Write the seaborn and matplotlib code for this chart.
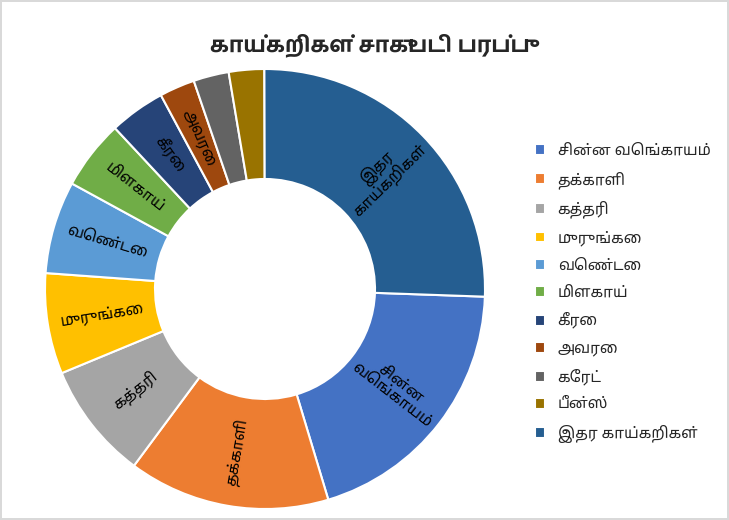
import numpy as np
import matplotlib
matplotlib.use("Agg")
import matplotlib.pyplot as plt
import seaborn as sns
from matplotlib import font_manager

# data (share of area, %)
labels = ["சின்ன வெங்காயம்", "தக்காளி", "கத்தரி", "முருங்கை", "வெண்டை", "மிளகாய்",
          "கீரை", "அவரை", "கேரட்", "பீன்ஸ்", "இதர காய்கறிகள்"]
values = [19.8, 14.8, 8.6, 7.4, 6.8, 5.1, 4.1, 2.6, 2.6, 2.6, 25.6]
slice_text = ["சின்ன\nவெங்காயம்", "தக்காளி", "கத்தரி", "முருங்கை", "வெண்டை", "மிளகாய்",
              "கீரை", "அவரை", "", "", "இதர\nகாய்கறிகள்"]
colors = ["#4472C4", "#ED7D31", "#A5A5A5", "#FFC000", "#5B9BD5", "#70AD47",
          "#264478", "#9E480E", "#636363", "#997300", "#255E91"]
title = "காய்கறிகள் சாகுபடி பரப்பு"

sns.set_theme(style="white")

# pick an installed font with tamil glyphs
prefs = ["Noto Sans Tamil", "Hind Madurai", "Catamaran", "FreeSans", "Anek Tamil"]
fonts = font_manager.fontManager.ttflist
installed = {f.name for f in fonts}
tamil_font = next((n for n in prefs if n in installed), None)
# title needs a real bold face
bold_font = next((n for n in prefs
                  if any(f.name == n and f.weight in (700, "bold") for f in fonts)), tamil_font)
plt.rcParams['font.family'] = ([tamil_font] if tamil_font else []) + ['DejaVu Sans']

fig = plt.figure(figsize=(7.29, 5.2), dpi=100)
fig.patch.set_edgecolor("#d9d9d9")
fig.patch.set_linewidth(1.5)

ax = fig.add_axes([45 / 729, 11 / 520, 440 / 729, 440 / 520])
wedges, _ = ax.pie(values, colors=sns.color_palette(colors), startangle=-2, counterclock=False,
                   radius=1, wedgeprops=dict(width=0.5, edgecolor="white", linewidth=1.5))
ax.set_xlim(-1, 1)
ax.set_ylim(-1, 1)
ax.set_aspect("equal")
ax.axis("off")

# labels run along the radius, turned so they stay readable
for w, t in zip(wedges, slice_text):
    if not t:
        continue
    mid = (w.theta1 + w.theta2) / 2
    rot = mid % 360
    if rot > 180:
        rot -= 360
    if rot > 90:
        rot -= 180
    elif rot < -90:
        rot += 180
    r = 0.75
    ax.text(r * np.cos(np.radians(mid)), r * np.sin(np.radians(mid)), t,
            ha="center", va="center", rotation=rot, rotation_mode="anchor",
            fontsize=11, color="black", linespacing=1.0)

fig.text(0.508, 0.913, title, ha="center", va="center", fontsize=16, fontweight="bold",
         family=([bold_font] if bold_font else []) + ['DejaVu Sans'])

fig.legend(wedges, labels, loc="upper left", bbox_to_anchor=(521 / 729, 1 - 130 / 520),
           frameon=False, fontsize=11, handlelength=0.7, handleheight=0.7,
           labelspacing=0.8, handletextpad=0.8)

fig.savefig("out.png", dpi=100)
